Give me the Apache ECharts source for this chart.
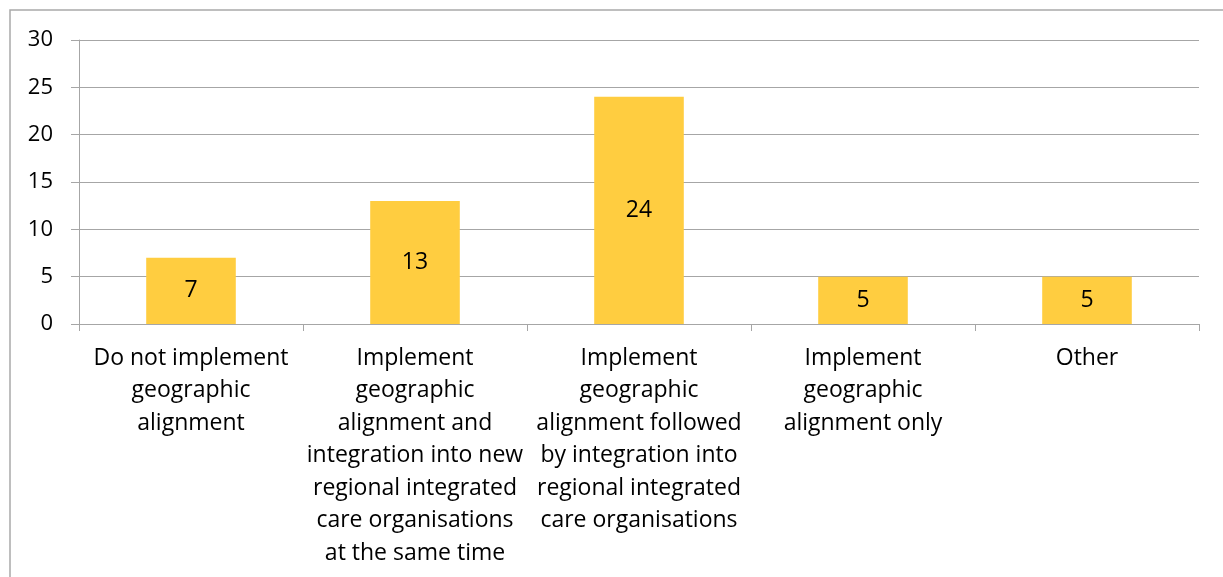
<!DOCTYPE html>
<html>
<head>
<meta charset="utf-8">
<script src="https://cdn.jsdelivr.net/npm/echarts@6/dist/echarts.min.js"></script>
<style>
  html, body { margin: 0; padding: 0; background: #fff; }
  #chart { width: 1223px; height: 577px; }
</style>
</head>
<body>
<div id="chart"></div>
<script>
const categories = [
    "Do not implement\ngeographic\nalignment",
    "Implement\ngeographic\nalignment and\nintegration into new\nregional integrated\ncare organisations\nat the same time",
    "Implement\ngeographic\nalignment followed\nby integration into\nregional integrated\ncare organisations",
    "Implement\ngeographic\nalignment only",
    "Other"
];
const counts = [7, 13, 24, 5, 5];
const yTicks = [0, 5, 10, 15, 20, 25, 30];

const chart = echarts.init(document.getElementById("chart"));

const fontFamily = "'Open Sans', sans-serif";

let option = {
    animation: false,
    graphic: [{
        type: 'rect',
        shape: { x: 10, y: 10, width: 1300, height: 700 },
        style: { fill: 'none', stroke: '#a9a9a9', lineWidth: 1.5 },
        silent: true
    }],
    grid: {
        left: 79,
        right: 24,
        top: 40,
        bottom: 253
    },
    xAxis: {
        type: 'category',
        data: categories,
        axisLine: { lineStyle: { color: '#a6a6a6', width: 1 } },
        axisTick: { show: true, length: 7, lineStyle: { color: '#a6a6a6' } },
        axisLabel: {
            interval: 0,
            color: '#000',
            fontFamily: fontFamily,
            fontSize: 23,
            lineHeight: 32.5,
            margin: 18,
            verticalAlign: 'top'
        }
    },
    yAxis: {
        type: 'value',
        min: yTicks[0],
        max: yTicks[yTicks.length - 1],
        interval: 5,
        axisLine: { show: true, lineStyle: { color: '#a6a6a6', width: 1 } },
        axisTick: { show: true, length: 8, lineStyle: { color: '#a6a6a6' } },
        splitLine: { lineStyle: { color: '#a6a6a6', width: 1 } },
        axisLabel: {
            color: '#000',
            fontFamily: fontFamily,
            fontSize: 22,
            margin: 26
        }
    },
    series: [{
        type: 'bar',
        data: counts,
        barWidth: '40%',
        itemStyle: { color: '#ffcd40' },
        label: {
            show: true,
            position: 'inside',
            color: '#000',
            fontFamily: fontFamily,
            fontSize: 23
        }
    }]
};

chart.setOption(option);
</script>
</body>
</html>
